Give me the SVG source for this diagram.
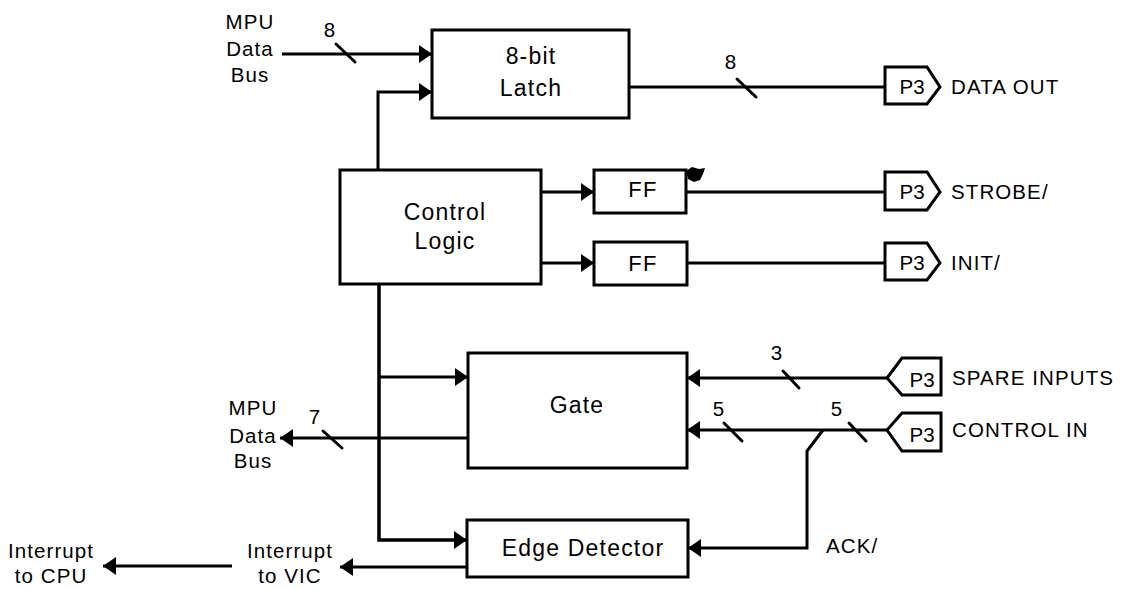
<svg xmlns="http://www.w3.org/2000/svg" width="1121" height="589" viewBox="0 0 1121 589">
<defs>
<style>
.box{fill:#fff;stroke:#000;stroke-width:3}
.ln{fill:none;stroke:#000;stroke-width:3}
.sl{fill:none;stroke:#000;stroke-width:3;stroke-linecap:round}
.t{font-family:"Liberation Sans",Arial,sans-serif;font-size:23px;letter-spacing:1.2px;fill:#000;text-anchor:middle}
.l{font-family:"Liberation Sans",Arial,sans-serif;font-size:20.5px;letter-spacing:1.1px;fill:#000}
.c{text-anchor:middle}
</style>
<marker id="ah" markerUnits="userSpaceOnUse" markerWidth="14" markerHeight="20" refX="13" refY="9" orient="auto">
<path d="M0,0 L13,9 L0,18 z" fill="#000"/>
</marker>
</defs>
<rect width="1121" height="589" fill="#fff"/>

<g id="connectors">
<line class="ln" x1="282" y1="54" x2="432" y2="54" marker-end="url(#ah)"/>
<polyline class="ln" points="378,170 378,92 432,92" marker-end="url(#ah)"/>
<line class="ln" x1="629" y1="87" x2="885" y2="87"/>
<line class="ln" x1="541" y1="192" x2="594" y2="192" marker-end="url(#ah)"/>
<line class="ln" x1="541" y1="263" x2="594" y2="263" marker-end="url(#ah)"/>
<line class="ln" x1="686" y1="192" x2="885" y2="192"/>
<line class="ln" x1="687" y1="263" x2="885" y2="263"/>
<polyline class="ln" points="379,284 379,540 467,540" marker-end="url(#ah)" style="stroke-width:3.5"/>
<line class="ln" x1="379" y1="377" x2="468" y2="377" marker-end="url(#ah)"/>
<line class="ln" x1="468" y1="438" x2="280" y2="438" marker-end="url(#ah)"/>
<line class="ln" x1="887" y1="378" x2="687" y2="378" marker-end="url(#ah)"/>
<line class="ln" x1="887" y1="430" x2="687" y2="430" marker-end="url(#ah)"/>
<polyline class="ln" points="823,430 807,451 807,548 688,548" marker-end="url(#ah)"/>
<line class="ln" x1="467" y1="567" x2="340" y2="567" marker-end="url(#ah)"/>
<line class="ln" x1="232" y1="566" x2="103" y2="566" marker-end="url(#ah)"/>
<line class="sl" x1="336" y1="44" x2="355" y2="62"/>
<line class="sl" x1="737" y1="79" x2="756" y2="97"/>
<line class="sl" x1="323" y1="431" x2="342" y2="448"/>
<line class="sl" x1="783" y1="371" x2="799" y2="388"/>
<line class="sl" x1="724" y1="423" x2="742" y2="441"/>
<line class="sl" x1="849" y1="423" x2="866" y2="441"/>
<text class="l c" x="330" y="37">8</text>
<text class="l c" x="731" y="69">8</text>
<text class="l c" x="315" y="424">7</text>
<text class="l c" x="777" y="360">3</text>
<text class="l c" x="719" y="416">5</text>
<text class="l c" x="837" y="416">5</text>
<text class="l" x="826" y="553">ACK/</text>
</g>

<g id="latch">
<rect class="box" x="432" y="30" width="197" height="88"/>
<text class="t" x="531" y="64">8-bit</text>
<text class="t" x="531" y="96">Latch</text>
</g>

<g id="control-logic">
<rect class="box" x="340" y="170" width="201" height="114"/>
<text class="t" x="445" y="220">Control</text>
<text class="t" x="445" y="249">Logic</text>
</g>

<g id="ff1">
<rect class="box" x="594" y="170" width="92" height="43"/>
<text class="t" x="643" y="197" style="font-size:22px">FF</text>
<path d="M686,171 L692,167 L699,169 L705,168 L703,174 L700,180 L694,182 L688,179 Z" fill="#000"/>
</g>

<g id="ff2">
<rect class="box" x="594" y="242" width="93" height="43"/>
<text class="t" x="643" y="271" style="font-size:22px">FF</text>
</g>

<g id="gate">
<rect class="box" x="468" y="353" width="219" height="115"/>
<text class="t" x="577" y="413">Gate</text>
</g>

<g id="edge-detector">
<rect class="box" x="467" y="520" width="221" height="57"/>
<text class="t" x="583" y="556">Edge Detector</text>
</g>

<g id="p3-data-out">
<path class="box" d="M885,67 L927,67 L940,87 L927,104 L885,104 Z"/>
<text class="l c" x="912" y="94" style="letter-spacing:0">P3</text>
<text class="l" x="951" y="94">DATA OUT</text>
</g>

<g id="p3-strobe">
<path class="box" d="M885,172 L927,172 L940,192 L927,210 L885,210 Z"/>
<text class="l c" x="912" y="199" style="letter-spacing:0">P3</text>
<text class="l" x="951" y="199">STROBE/</text>
</g>

<g id="p3-init">
<path class="box" d="M885,243 L927,243 L940,263 L927,280 L885,280 Z"/>
<text class="l c" x="912" y="270" style="letter-spacing:0">P3</text>
<text class="l" x="951" y="270">INIT/</text>
</g>

<g id="p3-spare">
<path class="box" d="M902,358 L941,358 L941,395 L902,395 L887,378 Z"/>
<text class="l c" x="922" y="387" style="letter-spacing:0">P3</text>
<text class="l" x="952" y="385">SPARE INPUTS</text>
</g>

<g id="p3-control-in">
<path class="box" d="M902,413 L941,413 L941,451 L902,451 L887,430 Z"/>
<text class="l c" x="922" y="442" style="letter-spacing:0">P3</text>
<text class="l" x="952" y="437">CONTROL IN</text>
</g>

<g id="mpu-in-label">
<text class="l c" x="250" y="29">MPU</text>
<text class="l c" x="250" y="56">Data</text>
<text class="l c" x="250" y="82">Bus</text>
</g>

<g id="mpu-out-label">
<text class="l c" x="253" y="415">MPU</text>
<text class="l c" x="253" y="443">Data</text>
<text class="l c" x="253" y="468">Bus</text>
</g>

<g id="int-vic-label">
<text class="l c" x="290" y="558">Interrupt</text>
<text class="l c" x="290" y="583">to VIC</text>
</g>

<g id="int-cpu-label">
<text class="l c" x="51" y="558">Interrupt</text>
<text class="l c" x="51" y="583">to CPU</text>
</g>
</svg>
